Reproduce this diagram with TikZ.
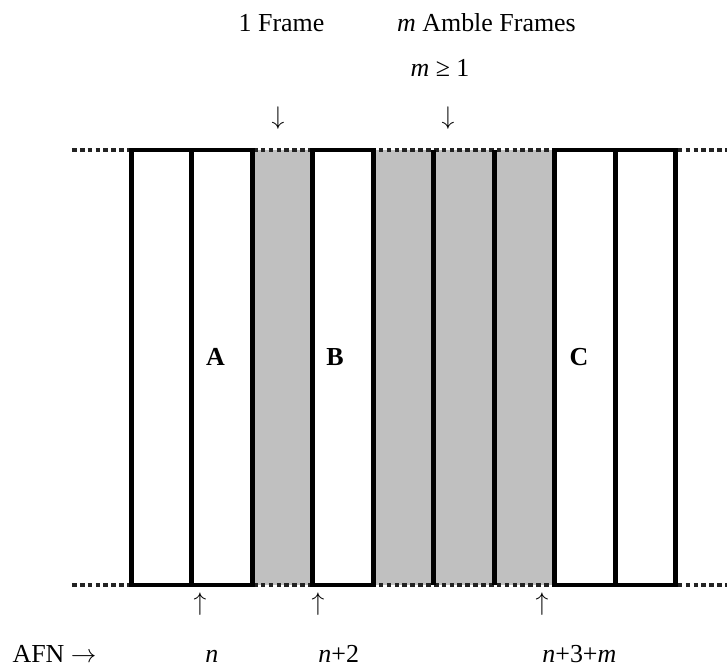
\documentclass[tikz,border=0pt]{standalone}
\usepackage{fontspec}
\setmainfont{Liberation Serif}
\usepackage{tikz}
\definecolor{amblegray}{RGB}{192,192,192}
\definecolor{guide}{RGB}{35,35,35}
\tikzset{
  framebox/.style={draw=black, line width=2.3pt, fill=white},
  divider/.style={draw=black, line width=2.3pt},
  amble/.style={fill=amblegray},
  guideline/.style={draw=guide, line width=1.5pt, dash pattern=on 2.2pt off 1.5pt},
  lbl/.style={font=\fontsize{12.2}{14.6}\selectfont, inner sep=0pt},
  tag/.style={font=\fontsize{12.2}{14.6}\selectfont\bfseries, inner sep=0pt},
}
\begin{document}
\begin{tikzpicture}
        \useasboundingbox (0,0) rectangle (12.017,11.058);
        % grey amble columns
        \foreach \k in {2,4,5,6}
          \fill[amble] (2.17+\k,1.388) rectangle ++(1,7.191);
        \draw[guideline] (1.19,8.579) -- (12.02,8.579);
        \draw[guideline] (1.19,1.388) -- (12.02,1.388);
        % frames
        \draw[framebox] (2.17,1.388) rectangle (4.17,8.579);
        \draw[divider] (3.17,1.388) -- (3.17,8.579);
        \draw[framebox] (5.17,1.388) rectangle (6.17,8.579);
        \draw[framebox] (9.17,1.388) rectangle (11.17,8.579);
        \draw[divider] (10.17,1.388) -- (10.17,8.579);
        \foreach \x in {7.17,8.17}
          \draw[divider] (\x,1.388) -- (\x,8.579);
        \node[tag, anchor=base] (lblA) at (3.562,5.008) {A};
        \node[tag, anchor=base] (lblB) at (5.537,5.008) {B};
        \node[tag, anchor=base] (lblC) at (9.570,5.008) {C};
        % top labels
        \node[lbl, anchor=base] (oneframe) at (4.653,10.529) {1 Frame};
        \node[lbl, anchor=base] (ambles) at (8.041,10.529) {\textit{m} Amble Frames};
        \node[lbl, anchor=base] (mcond) at (7.273,9.785) {\textit{m} ≥ 1};
        \node[lbl] (downone) at (4.595,9.107) {$\downarrow$};
        \node[lbl] (downamble) at (7.405,9.107) {$\downarrow$};
        % bottom labels
        \node[lbl] (upn) at (3.306,1.074) {$\uparrow$};
        \node[lbl] (upntwo) at (5.256,1.074) {$\uparrow$};
        \node[lbl] (upnm) at (8.959,1.074) {$\uparrow$};
        \node[lbl, anchor=base west] (afn) at (0.2,0.099) {AFN $\rightarrow$};
        \node[lbl, anchor=base west] (afnn) at (3.388,0.099) {\textit{n}};
        \node[lbl, anchor=base west] (afnntwo) at (5.256,0.099) {\textit{n}+2};
        \node[lbl, anchor=base west] (afnnm) at (8.959,0.099) {\textit{n}+3+\textit{m}};
      \end{tikzpicture}
\end{document}
